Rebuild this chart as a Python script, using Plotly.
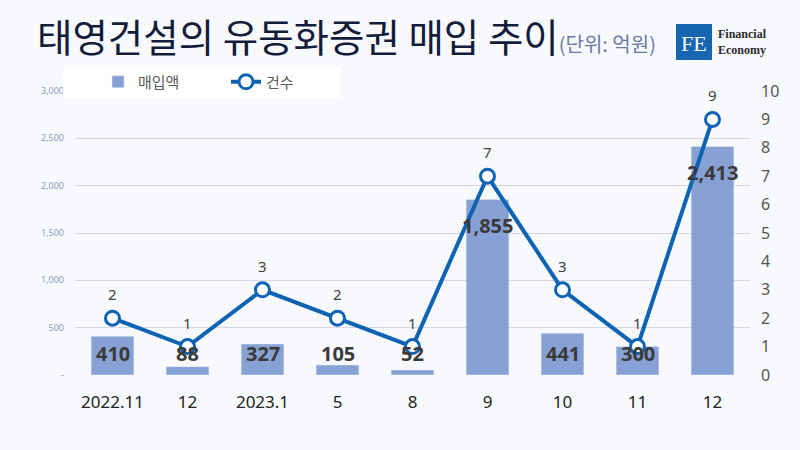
import plotly.graph_objects as go

categories = ["2022.11", "12", "2023.1", "5", "8", "9", "10", "11", "12"]
amounts = [410, 88, 327, 105, 52, 1855, 441, 300, 2413]
counts = [2, 1, 3, 2, 1, 7, 3, 1, 9]
left_ticks = [0, 500, 1000, 1500, 2000, 2500, 3000]
left_tick_text = ["-", "500", "1,000", "1,500", "2,000", "2,500", "3,000"]
right_ticks = list(range(0, 11))

BG = "#f7f9fd"
BAR = "#87a1d5"
LINE = "#0e63b3"
xs = list(range(len(categories)))


def px_x(p):
    return (p - 75) / 675


def px_y(p):
    return (375 - p) / 284


fig = go.Figure()
fig.add_trace(go.Bar(x=xs, y=amounts, name="매입액", marker_color=BAR, width=0.57,
                     yaxis="y"))
fig.add_trace(go.Scatter(x=xs, y=counts, name="건수", yaxis="y2", mode="lines+markers",
                         line=dict(color=LINE, width=4),
                         marker=dict(size=14, color="white", line=dict(color=LINE, width=3))))

ann = []
for x, v in zip(xs, amounts):
    big = v > 1000
    ann.append(dict(x=x, y=v if big else 0, xref="x", yref="y", text=f"{v:,}",
                    showarrow=False, yshift=-26 if big else 22, yanchor="middle",
                    xanchor="center",
                    font=dict(family="Open Sans, Noto Sans", size=20, color="#3a3a3a",
                              weight="bold")))
for x, c in zip(xs, counts):
    ann.append(dict(x=x, y=c, xref="x", yref="y2", text=str(c), showarrow=False,
                    yshift=24, yanchor="middle", xanchor="center",
                    font=dict(family="Noto Sans", size=15, color="#404040")))

# logo
ann.append(dict(x=px_x(694), y=px_y(43), xref="paper", yref="paper", text="FE",
                showarrow=False, xanchor="center", yanchor="middle",
                font=dict(family="Liberation Serif", size=22, color="white")))
ann.append(dict(x=px_x(716), y=px_y(42), xref="paper", yref="paper", xanchor="left",
                yanchor="middle", text="<b>Financial</b><br><b>Economy</b>",
                showarrow=False, align="left",
                font=dict(family="Liberation Serif", size=12, color="#2a2a2a")))

shapes = [
    dict(type="rect", xref="paper", yref="paper", x0=px_x(63), x1=px_x(340),
         y0=px_y(98), y1=px_y(67), fillcolor="white", line=dict(width=0), layer="above"),
    dict(type="rect", xref="paper", yref="paper", x0=px_x(676), x1=px_x(712),
         y0=px_y(60), y1=px_y(24), fillcolor="#1565b0", line=dict(width=0), layer="below"),
]

fig.update_layout(
    width=800, height=450,
    paper_bgcolor=BG, plot_bgcolor=BG,
    margin=dict(l=75, r=50, t=91, b=75),
    title=dict(
        text="태영건설의 유동화증권 매입 추이<span style='font-size:20px;color:#6b7ba3'>(단위: 억원)</span>",
        x=37 / 800, xanchor="left", xref="container", y=1 - 39 / 450, yanchor="middle",
        font=dict(family="Noto Sans CJK KR", size=38.5, color="#141c3c")),
    showlegend=True,
    legend=dict(orientation="h", x=px_x(98), y=px_y(82), yanchor="middle", xanchor="left",
                bgcolor="rgba(0,0,0,0)", entrywidth=83, entrywidthmode="pixels",
                font=dict(family="Noto Sans CJK KR", size=15, color="#595959")),
    xaxis=dict(range=[-0.5, 8.5], tickvals=xs, ticktext=categories, showgrid=False,
               zeroline=False, ticks="", ticklabelstandoff=15,
               tickfont=dict(family="Noto Sans", size=17, color="#222222")),
    yaxis=dict(range=[0, 3000], tickvals=left_ticks, ticktext=left_tick_text,
               gridcolor="#d3d7e6", gridwidth=1, zeroline=False, ticks="",
               ticklabelstandoff=10,
               tickfont=dict(family="Noto Sans", size=9, color="#8d9cc0")),
    yaxis2=dict(range=[0, 10], tickvals=right_ticks, overlaying="y", side="right",
                showgrid=False, zeroline=False, ticks="", ticklabelstandoff=10,
                tickfont=dict(family="Noto Sans", size=16, color="#555555")),
    annotations=ann,
    shapes=shapes,
)

fig.write_html("out.html", config={"displayModeBar": False},
               post_script="document.body.style.margin='0';")
